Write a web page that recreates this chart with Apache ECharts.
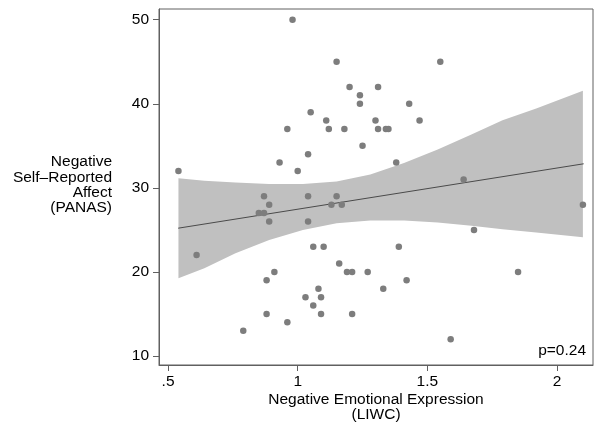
<!DOCTYPE html>
<html>
<head>
<meta charset="utf-8">
<script src="https://cdn.jsdelivr.net/npm/echarts@6/dist/echarts.min.js"></script>
<style>html,body{margin:0;padding:0;background:#fff}#c{width:600px;height:425px}</style>
</head>
<body>
<div id="c"></div>
<script>
// Scatter: Negative Emotional Expression (LIWC) vs Negative Self-Reported Affect (PANAS)
var liwc = [0.98,1.15,1.55,1.20,1.31,1.24,1.24,1.43,1.05,1.11,1.30,1.47,0.96,1.12,1.18,1.31,1.34,1.35,1.25,1.04,
            0.93,1.38,1.00,0.54,1.64,0.87,1.04,1.15,0.89,1.13,1.17,2.10,0.85,0.87,0.89,1.04,1.68,1.06,1.10,1.39,
            0.61,1.16,0.91,1.19,1.21,1.27,1.85,0.88,1.42,1.08,1.33,1.03,1.09,1.06,0.88,1.09,1.21,0.96,0.79,1.59];
var panas = [50,45,45,42,42,41,40,40,39,38,38,38,37,37,37,37,37,37,35,34,
             33,33,32,32,31,29,29,29,28,28,28,28,27,27,26,26,25,23,23,23,
             22,21,20,20,20,20,20,19,19,18,18,17,17,16,15,15,15,14,13,12];
// Linear fit end points
var fitX = [0.539, 2.103];
var fitY = [25.2, 32.86];
// 95% CI band
var ciX  = [0.54, 0.64, 0.76, 0.89, 1.02, 1.15, 1.28, 1.41, 1.54, 1.67, 1.79, 1.92, 2.10];
var ciLo = [19.25, 20.44, 22.23, 23.81, 25.0, 25.8, 26.11, 26.11, 25.87, 25.48, 25.08, 24.68, 24.13];
var ciHi = [31.15, 30.85, 30.63, 30.47, 30.45, 30.75, 31.6, 32.95, 34.55, 36.35, 38.05, 39.45, 41.55];
var xTicks = [0.5, 1, 1.5, 2];
var yTicks = [10, 20, 30, 40, 50];

var FONT = 'Liberation Sans, Arial, Helvetica, sans-serif';
var FS = 15.5;
var chart = echarts.init(document.getElementById('c'), null, {renderer: 'canvas'});

var fitData = fitX.map(function (x, i) { return [x, fitY[i]]; });
var pts = liwc.map(function (x, i) { return [x, panas[i]]; });

chart.setOption({
  animation: false,
  backgroundColor: '#ffffff',
  grid: {left: 159, top: 9, width: 434, height: 356, show: true, borderColor: '#606060', borderWidth: 1, backgroundColor: 'transparent'},
  xAxis: {
    type: 'value', min: 0.465, max: 2.139,
    axisLine: {show: true, onZero: false, lineStyle: {color: '#606060', width: 1}},
    axisTick: {show: true, inside: false, length: 6, customValues: xTicks, lineStyle: {color: '#606060'}},
    axisLabel: {customValues: xTicks, margin: 9, color: '#000', fontFamily: FONT, fontSize: FS,
      formatter: function (v) { return v === 0.5 ? '.5' : String(v); }},
    splitLine: {show: false}
  },
  yAxis: {
    type: 'value', min: 8.93, max: 51.27,
    axisLine: {show: true, onZero: false, lineStyle: {color: '#606060', width: 1}},
    axisTick: {show: true, inside: false, length: 6, customValues: yTicks, lineStyle: {color: '#606060'}},
    axisLabel: {customValues: yTicks, margin: 10, color: '#000', fontFamily: FONT, fontSize: FS},
    splitLine: {show: false}
  },
  graphic: [
    {type: 'text', x: 112, y: 185, style: {text: 'Negative\nSelf\u2013Reported\nAffect\n(PANAS)', align: 'right', verticalAlign: 'middle',
      font: FS + 'px ' + FONT, fill: '#000', lineHeight: 15.3}},
    {type: 'text', x: 376, y: 407, style: {text: 'Negative Emotional Expression\n(LIWC)', align: 'center', verticalAlign: 'middle',
      font: FS + 'px ' + FONT, fill: '#000', lineHeight: 15}},
    {type: 'text', x: 586, y: 351, style: {text: 'p=0.24', align: 'right', verticalAlign: 'middle',
      font: FS + 'px ' + FONT, fill: '#000'}}
  ],
  series: [
    {type: 'custom', data: [[0]], silent: true, z: 1,
      renderItem: function (params, api) {
        var poly = [];
        for (var i = 0; i < ciX.length; i++) poly.push(api.coord([ciX[i], ciHi[i]]));
        for (var j = ciX.length - 1; j >= 0; j--) poly.push(api.coord([ciX[j], ciLo[j]]));
        return {type: 'polygon', shape: {points: poly}, style: {fill: '#c0c0c0', stroke: null}};
      }},
    {type: 'line', data: fitData, symbol: 'none', lineStyle: {color: '#4a4a4a', width: 1}, z: 2},
    {type: 'scatter', data: pts, symbol: 'circle', symbolSize: 6.5, itemStyle: {color: '#7d7d7d', opacity: 1}, z: 3}
  ]
});
</script>
</body>
</html>
